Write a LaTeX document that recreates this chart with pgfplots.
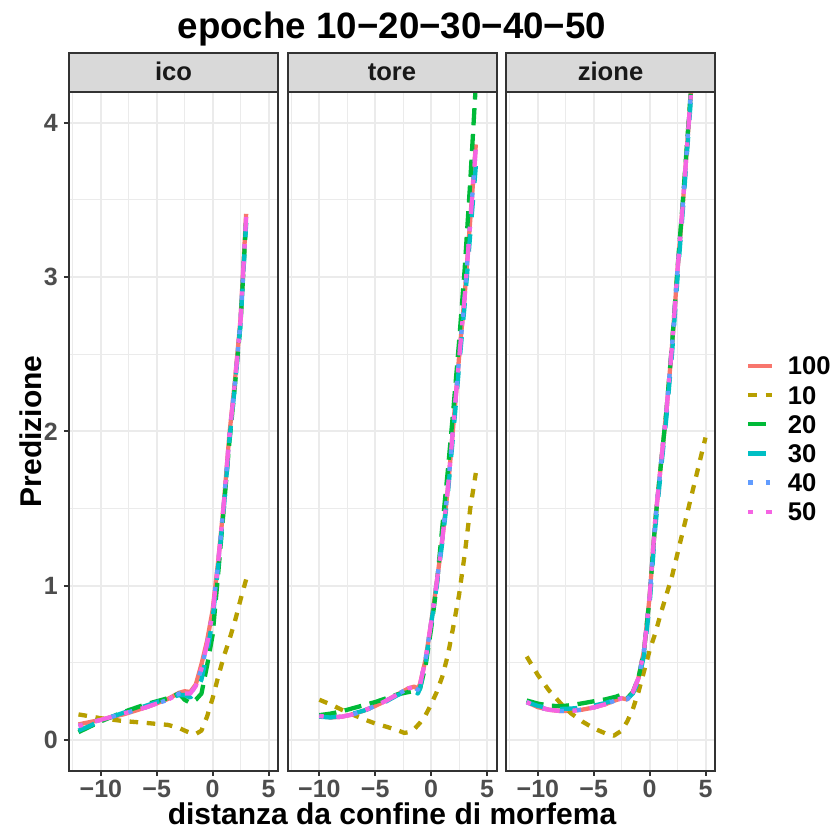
\documentclass[border=0pt]{standalone}
\usepackage{pgfplots}
\pgfplotsset{compat=1.18}
\usepackage{fontspec}
\setmainfont{Liberation Sans}
\definecolor{c100}{HTML}{F8766D}
\definecolor{c10}{HTML}{B79F00}
\definecolor{c20}{HTML}{00BA38}
\definecolor{c30}{HTML}{00BFC4}
\definecolor{c40}{HTML}{619CFF}
\definecolor{c50}{HTML}{F564E3}
\definecolor{gray20}{HTML}{333333}
\definecolor{gray30}{HTML}{4D4D4D}
\definecolor{gray92}{HTML}{EBEBEB}
\definecolor{gray85}{HTML}{D9D9D9}
\pgfplotsset{
  lw/.style={line width=2.15pt, line cap=butt, line join=round},
  s100/.style={lw, color=c100, solid},
  s10/.style={lw, color=c10, dash pattern=on 4.3pt off 4.3pt},
  s20/.style={lw, color=c20, dash pattern=on 8.6pt off 4.3pt},
  s30/.style={lw, color=c30, dash pattern=on 8.6pt off 8.6pt},
  s40/.style={lw, color=c40, dash pattern=on 2.15pt off 6.45pt},
  s50/.style={lw, color=c50, dash pattern=on 2.15pt off 6.45pt on 8.6pt off 6.45pt},
  panel/.style={
    anchor=south west, scale only axis, width=104.5pt, height=339.35pt,
    xmin=-12.85, xmax=5.85, ymin=-0.2, ymax=4.2,
    xtick={-10,-5,0,5}, xticklabels={−10,−5,0,5},
    minor xtick={-12.5,-7.5,-2.5,2.5},
    ytick={0,1,2,3,4}, yticklabels={0,1,2,3,4}, minor ytick={0.5,1.5,2.5,3.5},
    grid=both,
    major grid style={color=gray92, line width=1pt},
    minor grid style={color=gray92, line width=0.5pt},
    axis line style={draw=gray20, line width=1pt},
    tick style={draw=gray20, line width=1pt},
    major tick length=2.6pt, minor tick length=0pt,
    tick align=outside, xtick pos=lower, ytick pos=left,
    tick label style={font=\bfseries\fontsize{12.5}{14}\selectfont, text=gray30},
    xticklabel style={yshift=1.5pt},
    yticklabel style={xshift=0.5pt},
    after end axis/.code={\draw[gray20, line width=1pt] (rel axis cs:0,0) rectangle (rel axis cs:1,1);},
  },
}
\begin{document}
\begin{tikzpicture}
\useasboundingbox (0,0) rectangle (416.5pt,416.5pt);
% strips
\foreach \xl/\xr/\lab in {34.5/139.0/ico, 143.75/248.25/tore, 253/357.5/zione}{
  \draw[fill=gray85, draw=gray20, line width=1pt] (\xl pt,370.5pt) rectangle (\xr pt,390.15pt);
  \node[anchor=base, text=black!90, font=\bfseries\fontsize{12.8}{14}\selectfont] at ({(\xl+\xr)/2*1pt},376.0pt) {\lab};
}
% panel ico
\begin{axis}[panel, at={(34.5pt,31.15pt)}]
\addplot[s100] coordinates {(-12,0.10) (-11,0.115) (-10,0.13) (-9,0.148) (-8,0.165) (-7,0.187) (-6,0.21) (-5,0.237) (-4,0.265) (-3,0.305) (-2.5,0.315) (-2,0.31) (-1.5,0.36) (-1,0.49) (-0.5,0.64) (0,0.84) (0.5,1.16) (1,1.53) (1.5,1.98) (2,2.33) (2.5,2.73) (3,3.41)};
\addplot[s10] coordinates {(-12,0.165) (-10,0.14) (-8,0.122) (-6,0.11) (-4,0.097) (-3,0.077) (-2.5,0.06) (-2,0.045) (-1.5,0.038) (-1,0.06) (-0.5,0.15) (0,0.27) (0.5,0.41) (1,0.54) (1.5,0.65) (2,0.77) (2.5,0.91) (3,1.04)};
\addplot[s20] coordinates {(-12,0.05) (-11,0.085) (-10,0.12) (-9,0.15) (-8,0.18) (-7,0.205) (-6,0.23) (-5,0.25) (-4,0.27) (-3,0.3) (-2.5,0.26) (-2,0.24) (-1.5,0.26) (-1,0.3) (-0.5,0.48) (0,0.68) (0.5,1.08) (1,1.5) (1.5,1.93) (2,2.3) (2.5,2.7) (3,3.37)};
\addplot[s30] coordinates {(-12,0.06) (-11,0.09) (-10,0.125) (-9,0.15) (-8,0.175) (-7,0.2) (-6,0.22) (-5,0.245) (-4,0.27) (-3,0.29) (-2.5,0.29) (-2,0.275) (-1.5,0.31) (-1,0.39) (-0.5,0.56) (0,0.78) (0.5,1.13) (1,1.5) (1.5,1.94) (2,2.3) (2.5,2.7) (3,3.35)};
\addplot[s40] coordinates {(-12,0.09) (-11,0.11) (-10,0.13) (-9,0.15) (-8,0.17) (-7,0.19) (-6,0.21) (-5,0.235) (-4,0.26) (-3,0.3) (-2.5,0.3) (-2,0.3) (-1.5,0.35) (-1,0.46) (-0.5,0.62) (0,0.82) (0.5,1.15) (1,1.53) (1.5,1.97) (2,2.32) (2.5,2.72) (3,3.39)};
\addplot[s50] coordinates {(-12,0.09) (-11,0.11) (-10,0.13) (-9,0.15) (-8,0.17) (-7,0.19) (-6,0.21) (-5,0.235) (-4,0.26) (-3,0.3) (-2.5,0.3) (-2,0.3) (-1.5,0.35) (-1,0.46) (-0.5,0.62) (0,0.82) (0.5,1.15) (1,1.53) (1.5,1.97) (2,2.32) (2.5,2.72) (3,3.39)};
\end{axis}
% panel tore
\begin{axis}[panel, at={(143.75pt,31.15pt)}, yticklabels={}, ytick style={draw=none}]
\addplot[s100] coordinates {(-10,0.155) (-9,0.145) (-8,0.15) (-7,0.165) (-6,0.19) (-5,0.22) (-4,0.255) (-3,0.295) (-2,0.335) (-1.5,0.345) (-1.2,0.33) (-1,0.36) (-0.5,0.52) (0,0.76) (0.5,1.02) (1,1.3) (1.5,1.63) (2,2.05) (2.5,2.48) (3,2.88) (3.5,3.37) (4,3.86)};
\addplot[s10] coordinates {(-10,0.26) (-9,0.23) (-8,0.195) (-7,0.163) (-6,0.133) (-5,0.106) (-4,0.085) (-3,0.062) (-2.4,0.045) (-2,0.05) (-1.5,0.07) (-1,0.11) (-0.5,0.16) (0,0.23) (0.5,0.31) (1,0.41) (1.5,0.55) (2,0.74) (2.5,0.94) (3,1.2) (3.5,1.5) (4,1.73)};
\addplot[s20] coordinates {(-10,0.16) (-9,0.17) (-8,0.185) (-7,0.205) (-6,0.225) (-5,0.245) (-4,0.27) (-3,0.295) (-2,0.31) (-1.5,0.315) (-1,0.33) (-0.5,0.48) (0,0.72) (0.5,1.0) (1,1.38) (1.5,1.75) (2,2.15) (2.5,2.58) (3,3.05) (3.5,3.62) (4,4.25)};
\addplot[s30] coordinates {(-10,0.15) (-9,0.145) (-8,0.155) (-7,0.17) (-6,0.19) (-5,0.215) (-4,0.25) (-3,0.29) (-2,0.32) (-1.5,0.32) (-1.2,0.3) (-1,0.33) (-0.5,0.5) (0,0.75) (0.5,1.0) (1,1.28) (1.5,1.6) (2,2.0) (2.5,2.42) (3,2.82) (3.5,3.28) (4,3.72)};
\addplot[s40] coordinates {(-10,0.155) (-9,0.145) (-8,0.15) (-7,0.165) (-6,0.19) (-5,0.22) (-4,0.255) (-3,0.295) (-2,0.335) (-1.5,0.34) (-1.2,0.325) (-1,0.355) (-0.5,0.52) (0,0.76) (0.5,1.02) (1,1.3) (1.5,1.63) (2,2.05) (2.5,2.47) (3,2.87) (3.5,3.35) (4,3.84)};
\addplot[s50] coordinates {(-10,0.155) (-9,0.145) (-8,0.15) (-7,0.165) (-6,0.19) (-5,0.22) (-4,0.255) (-3,0.295) (-2,0.335) (-1.5,0.34) (-1.2,0.325) (-1,0.355) (-0.5,0.52) (0,0.76) (0.5,1.02) (1,1.3) (1.5,1.63) (2,2.05) (2.5,2.47) (3,2.87) (3.5,3.35) (4,3.84)};
\end{axis}
% panel zione
\begin{axis}[panel, at={(253pt,31.15pt)}, yticklabels={}, ytick style={draw=none},
  legend style={at={(1.148,0.489)}, anchor=west, draw=none, fill=none,
    font=\bfseries\fontsize{12.8}{14}\selectfont, text=black,
    row sep=5.6pt, inner sep=0pt,
    nodes={inner sep=0pt, text height=9pt, text depth=0pt}},
  legend cell align=left,
  legend image code/.code={\draw[#1] (0pt,0pt) -- (11.65pt,0pt);},
  /tikz/every odd column/.append style={column sep=7pt}]
\addplot[s100] coordinates {(-11,0.245) (-10,0.212) (-9,0.195) (-8,0.187) (-7,0.188) (-6,0.196) (-5,0.21) (-4,0.23) (-3,0.258) (-2.5,0.27) (-2,0.262) (-1.5,0.31) (-1,0.4) (-0.5,0.58) (0,0.93) (0.5,1.42) (1,1.78) (1.5,2.13) (2,2.55) (2.5,3.05) (3,3.5) (3.5,4.0) (4,4.5)};
\addlegendentry{100}
\addplot[s10] coordinates {(-11,0.54) (-10,0.42) (-9,0.32) (-8,0.24) (-7,0.17) (-6,0.118) (-5,0.075) (-4,0.043) (-3.2,0.027) (-2.5,0.06) (-2,0.12) (-1.5,0.2) (-1,0.31) (-0.5,0.445) (0,0.58) (0.5,0.69) (1,0.82) (2,1.06) (3,1.36) (4,1.66) (5,1.96)};
\addlegendentry{10}
\addplot[s20] coordinates {(-11,0.255) (-10,0.235) (-9,0.222) (-8,0.218) (-7,0.225) (-6,0.237) (-5,0.25) (-4,0.262) (-3,0.28) (-2.6,0.29) (-2.3,0.27) (-2,0.27) (-1.5,0.31) (-1,0.4) (-0.5,0.58) (0,0.92) (0.5,1.41) (1,1.78) (1.5,2.13) (2,2.56) (2.5,3.06) (3,3.52) (3.5,4.02) (4,4.52)};
\addlegendentry{20}
\addplot[s30] coordinates {(-11,0.245) (-10,0.22) (-9,0.205) (-8,0.2) (-7,0.203) (-6,0.21) (-5,0.222) (-4,0.238) (-3,0.262) (-2.5,0.268) (-2,0.265) (-1.5,0.3) (-1,0.38) (-0.5,0.55) (0,0.88) (0.5,1.37) (1,1.74) (1.5,2.09) (2,2.5) (2.5,3.0) (3,3.46) (3.5,3.96) (4,4.46)};
\addlegendentry{30}
\addplot[s40] coordinates {(-11,0.245) (-10,0.212) (-9,0.195) (-8,0.187) (-7,0.188) (-6,0.196) (-5,0.21) (-4,0.23) (-3,0.258) (-2.5,0.27) (-2,0.262) (-1.5,0.31) (-1,0.4) (-0.5,0.58) (0,0.93) (0.5,1.42) (1,1.78) (1.5,2.13) (2,2.55) (2.5,3.05) (3,3.5) (3.5,4.0) (4,4.5)};
\addlegendentry{40}
\addplot[s50] coordinates {(-11,0.245) (-10,0.212) (-9,0.195) (-8,0.187) (-7,0.188) (-6,0.196) (-5,0.21) (-4,0.23) (-3,0.258) (-2.5,0.27) (-2,0.262) (-1.5,0.31) (-1,0.4) (-0.5,0.58) (0,0.93) (0.5,1.42) (1,1.78) (1.5,2.13) (2,2.55) (2.5,3.05) (3,3.5) (3.5,4.0) (4,4.5)};
\addlegendentry{50}
\end{axis}
% titles
\node[anchor=base, font=\bfseries\fontsize{18.35}{22}\selectfont] at (196pt,397pt) {epoche 10−20−30−40−50};
\node[anchor=base, font=\bfseries\fontsize{15}{18}\selectfont] at (196pt,4.5pt) {distanza da confine di morfema};
\node[anchor=base, rotate=90, font=\bfseries\fontsize{15}{18}\selectfont] at (20.5pt,200.8pt) {Predizione};
\end{tikzpicture}
\end{document}
